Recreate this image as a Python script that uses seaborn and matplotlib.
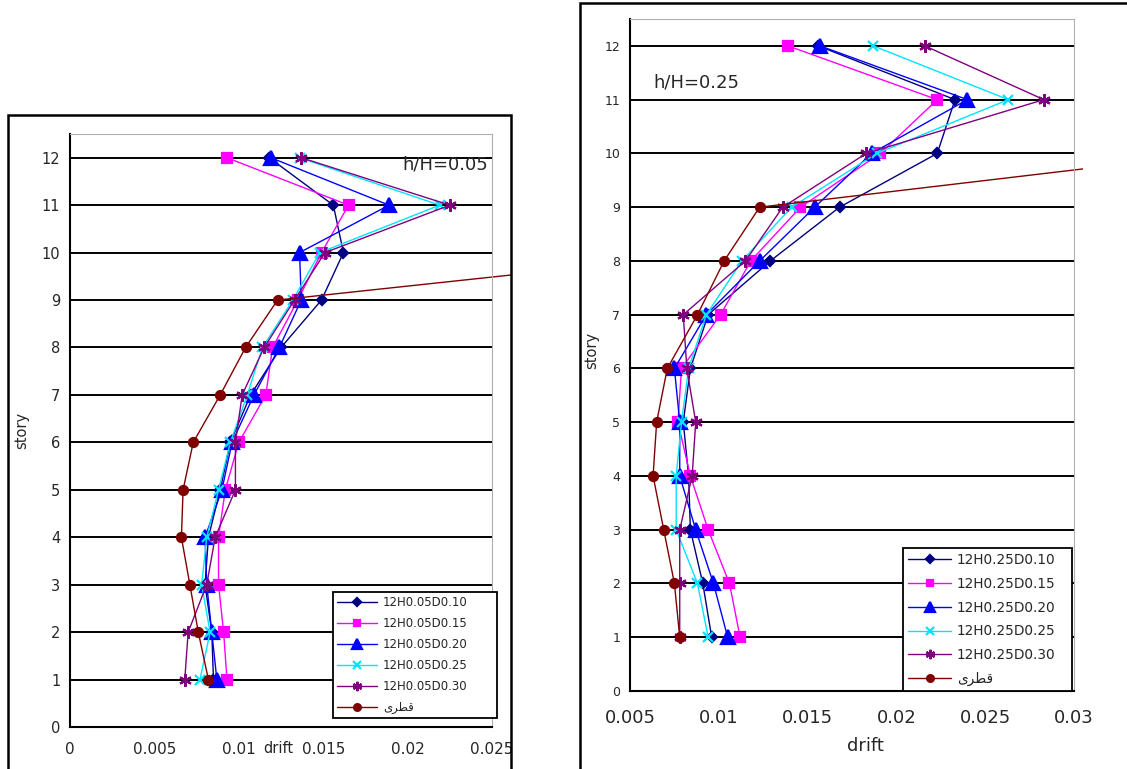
import matplotlib
matplotlib.use('Agg')
import matplotlib.pyplot as plt
from matplotlib.patches import Rectangle
import seaborn as sns
import pandas as pd

# story numbers (the diagonal case only has values up to story 10)
stories = list(range(1, 13))
diag_stories = list(range(1, 11))

labels_05 = ['12H0.05D0.10', '12H0.05D0.15', '12H0.05D0.20', '12H0.05D0.25', '12H0.05D0.30']
labels_25 = ['12H0.25D0.10', '12H0.25D0.15', '12H0.25D0.20', '12H0.25D0.25', '12H0.25D0.30']
diag_label = 'قطری'
# same word in shaped presentation forms, visual order (matplotlib does no Arabic shaping)
diag_label_shown = '\ufbfc\ufeae\ufec4\ufed7'

# h/H = 0.05, drift per story (1..12)
h05_d10 = [0.0085, 0.0084, 0.0080, 0.0082, 0.0089, 0.0095, 0.0107, 0.0125, 0.0149, 0.0162, 0.0156, 0.0118]
h05_d15 = [0.0093, 0.0091, 0.0088, 0.0088, 0.0092, 0.0100, 0.0116, 0.0120, 0.0135, 0.0149, 0.0165, 0.0093]
h05_d20 = [0.0087, 0.0084, 0.0081, 0.0080, 0.0090, 0.0096, 0.0109, 0.0124, 0.0137, 0.0136, 0.0189, 0.0119]
h05_d25 = [0.0077, 0.0083, 0.0078, 0.0081, 0.0088, 0.0095, 0.0105, 0.0114, 0.0132, 0.0148, 0.0219, 0.0136]
h05_d30 = [0.0068, 0.0070, 0.0081, 0.0086, 0.0098, 0.0098, 0.0102, 0.0115, 0.0133, 0.0151, 0.0225, 0.0137]
h05_diag = [0.0082, 0.0076, 0.0071, 0.0066, 0.0067, 0.0073, 0.0089, 0.0104, 0.0123, 0.0385]

# h/H = 0.25
h25_d10 = [0.0096, 0.0091, 0.0084, 0.0083, 0.0080, 0.0084, 0.0094, 0.0129, 0.0168, 0.0223, 0.0233, 0.0156]
h25_d15 = [0.0112, 0.0106, 0.0094, 0.0084, 0.0077, 0.0079, 0.0101, 0.0118, 0.0146, 0.0191, 0.0223, 0.0139]
h25_d20 = [0.0105, 0.0097, 0.0087, 0.0078, 0.0078, 0.0075, 0.0093, 0.0123, 0.0154, 0.0186, 0.0240, 0.0157]
h25_d25 = [0.0094, 0.0088, 0.0076, 0.0076, 0.0079, 0.0083, 0.0093, 0.0113, 0.0141, 0.0189, 0.0263, 0.0187]
h25_d30 = [0.0078, 0.0078, 0.0078, 0.0085, 0.0087, 0.0082, 0.0080, 0.0115, 0.0136, 0.0183, 0.0283, 0.0216]
h25_diag = [0.0078, 0.0075, 0.0069, 0.0063, 0.0065, 0.0071, 0.0088, 0.0103, 0.0123, 0.0379]

x_ticks_05 = [0, 0.005, 0.01, 0.015, 0.02, 0.025]
x_tick_labels_05 = ['0', '0.005', '0.01', '0.015', '0.02', '0.025']
x_ticks_25 = [0.005, 0.01, 0.015, 0.02, 0.025, 0.03]
x_tick_labels_25 = ['0.005', '0.01', '0.015', '0.02', '0.025', '0.03']

# colour, marker, size
styles = [
    ('#000080', 'D', 5.5),
    ('#ff00ff', 's', 6.5),
    ('#0000ff', '^', 10),
    ('#00e5ff', 'x', 7),
    ('#800080', (6, 2, 0), 9),
]
diag_style = ('#800000', 'o', 6.5)


def draw_series(ax, vals, ys, label, style):
    color, marker, ms = style
    df = pd.DataFrame({'drift': vals, 'story': ys})
    sns.lineplot(data=df, x='drift', y='story', ax=ax, sort=False, estimator=None,
                 color=color, marker=marker, markersize=ms, mec=color, mew=1.6,
                 lw=1.0, label=label)
    return ax.lines[-1]


def plot_panel(ax, series, labels, diag):
    for vals, lab, st in zip(series, labels, styles):
        draw_series(ax, vals, stories, lab, st)
    line = draw_series(ax, diag, diag_stories, diag_label_shown, diag_style)
    return line


sns.set_style('white')
plt.rcParams['font.family'] = ['DejaVu Sans']

fig = plt.figure(figsize=(11.27, 7.69), dpi=100)

# outer chart frames
fig.add_artist(Rectangle((8 / 1127, -0.01), 503 / 1127, 1.01 - 115 / 769,
                         transform=fig.transFigure, fill=False, ec='black', lw=1.8))
fig.add_artist(Rectangle((580 / 1127, -0.01), 0.6, 1.01 - 3 / 769,
                         transform=fig.transFigure, fill=False, ec='black', lw=1.8))

ax1 = fig.add_axes([70 / 1127, 1 - 727 / 769, 422 / 1127, 593 / 769])
ax2 = fig.add_axes([630 / 1127, 1 - 691 / 769, 444 / 1127, 672 / 769])

line1 = plot_panel(ax1, [h05_d10, h05_d15, h05_d20, h05_d25, h05_d30], labels_05, h05_diag)
line2 = plot_panel(ax2, [h25_d10, h25_d15, h25_d20, h25_d25, h25_d30], labels_25, h25_diag)
# the diagonal line runs off the plot area up to the chart border
line1.set_clip_path(Rectangle((0, 0), 1.045, 1, transform=ax1.transAxes))
line2.set_clip_path(Rectangle((0, 0), 1.02, 1, transform=ax2.transAxes))

for ax, xlim, xt, xtl in [(ax1, (0, 0.025), x_ticks_05, x_tick_labels_05),
                          (ax2, (0.005, 0.03), x_ticks_25, x_tick_labels_25)]:
    ax.set_xlim(*xlim)
    ax.set_ylim(0, 12.5)
    ax.set_xticks(xt)
    ax.set_xticklabels(xtl)
    ax.set_yticks(range(0, 13))
    for y in range(1, 13):
        ax.axhline(y, color='black', lw=1.4, zorder=0.5)
    ax.spines['left'].set_color('black')
    ax.spines['bottom'].set_color('black')
    ax.spines['left'].set_linewidth(1.5)
    ax.spines['bottom'].set_linewidth(1.5)
    ax.spines['top'].set_color('#b0b0b0')
    ax.spines['right'].set_color('#b0b0b0')
    ax.tick_params(axis='y', direction='out', length=4, width=1, color='black', pad=3)
    ax.tick_params(axis='x', direction='inout', length=6, width=1, color='black')
    ax.set_xlabel('')
    ax.set_ylabel('')

ax1.tick_params(axis='y', labelsize=10.5)
ax1.tick_params(axis='x', labelsize=11, pad=8)
ax2.tick_params(axis='y', labelsize=9)
ax2.tick_params(axis='x', labelsize=13, pad=10)

# the left panel has its "drift" title squeezed into the tick label row
ax1.text(0.493, -0.036, 'drift', transform=ax1.transAxes, ha='center', va='center', fontsize=10.5)
ax1.text(-0.114, 0.5, 'story', transform=ax1.transAxes, ha='center', va='center',
         rotation=90, fontsize=10.5)
ax1.text(0.99, 0.948, 'h/H=0.05', transform=ax1.transAxes, ha='right', va='center', fontsize=13)

ax2.text(0.53, -0.082, 'drift', transform=ax2.transAxes, ha='center', va='center', fontsize=13)
ax2.text(-0.086, 0.507, 'story', transform=ax2.transAxes, ha='center', va='center',
         rotation=90, fontsize=10.5)
ax2.text(0.052, 0.905, 'h/H=0.25', transform=ax2.transAxes, ha='left', va='center', fontsize=13)

leg1 = ax1.legend(loc='lower left', bbox_to_anchor=(0.623, 0.015, 0.389, 0.213), mode='expand',
                  borderaxespad=0, fontsize=8.5, handlelength=3.4, labelspacing=0.68,
                  fancybox=False, framealpha=1, edgecolor='black', borderpad=0.35,
                  handletextpad=0.5)
leg2 = ax2.legend(loc='lower left', bbox_to_anchor=(0.615, 0.0, 0.38, 0.223), mode='expand',
                  borderaxespad=0, fontsize=9.8, handlelength=3.2, labelspacing=0.72,
                  fancybox=False, framealpha=1, edgecolor='black', borderpad=0.35,
                  handletextpad=0.4)
for leg in (leg1, leg2):
    leg.get_frame().set_linewidth(1.3)
    for h in leg.legend_handles:
        h.set_markersize(h.get_markersize() * 0.75)

fig.savefig('out.png', dpi=100)
